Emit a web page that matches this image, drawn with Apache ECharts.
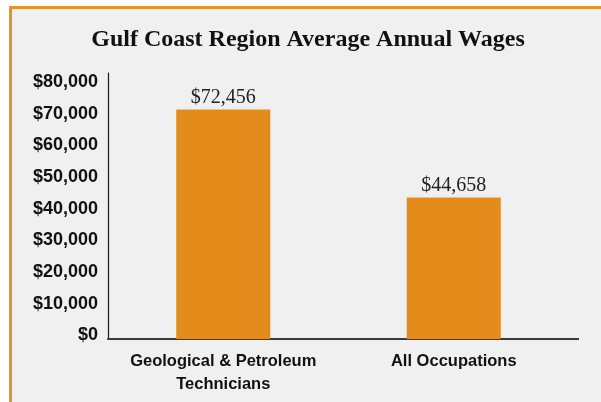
<!DOCTYPE html>
<html>
<head>
<meta charset="utf-8">
<script src="https://cdn.jsdelivr.net/npm/echarts@6/dist/echarts.min.js"></script>
<style>
  html, body { margin:0; padding:0; background:#ffffff; overflow:hidden; }
  #panel { position:absolute; left:9px; top:6px; width:620px; height:420px;
           background:#f0f0f0; border-left:3px solid #e8922a; border-top:3px solid #e8922a; box-sizing:border-box; }
  #chart { position:absolute; left:0; top:0; width:601px; height:402px; }
</style>
</head>
<body>
<div id="panel"></div>
<div id="chart"></div>
<script>
const titleText = 'Gulf Coast Region Average Annual Wages';
const categories = ['Geological & Petroleum\nTechnicians', 'All Occupations'];
const wages = [72456, 44658];
const yTicks = [0, 10000, 20000, 30000, 40000, 50000, 60000, 70000, 80000];

const fmtMoney = v => '$' + Math.round(v).toLocaleString('en-US');
const labelFont = '"Liberation Sans Narrow", "Arial Narrow", "Liberation Sans", sans-serif';

const chart = echarts.init(document.getElementById('chart'), null, { renderer: 'canvas' });
chart.setOption({
  backgroundColor: 'transparent',
  animation: false,
  title: {
    text: titleText,
    left: 303, top: 23, textAlign: 'center',
    textStyle: { fontFamily: '"Liberation Serif", serif', fontWeight: 'bold', fontSize: 24, color: '#111' }
  },
  grid: { left: 108, top: 73, right: 32, bottom: 63, containLabel: false },
  xAxis: {
    type: 'category',
    data: categories,
    axisLine: { show: true, lineStyle: { color: '#3a3a3a', width: 2 } },
    axisTick: { show: false },
    axisLabel: {
      margin: 11, interval: 0,
      fontFamily: labelFont, fontWeight: 'bold', fontSize: 16.5, color: '#111', lineHeight: 23
    }
  },
  yAxis: {
    type: 'value',
    min: 0, max: 84000, interval: 10000,
    splitLine: { show: false },
    axisTick: { show: false },
    axisLine: { show: true, lineStyle: { color: '#1a1a1a', width: 1.2 } },
    axisLabel: {
      showMaxLabel: false,
      margin: 10,
      formatter: v => yTicks.indexOf(v) >= 0 ? '{a|' + fmtMoney(v) + '}' : '',
      rich: {
        a: {
          fontFamily: labelFont, fontWeight: 'bold', fontSize: 18, color: '#111',
          padding: [0, 0, 7, 0]
        }
      }
    }
  },
  series: [{
    type: 'bar',
    data: wages,
    barWidth: 94,
    itemStyle: { color: '#e38c1c' },
    label: {
      show: true, position: 'top', distance: 2,
      formatter: p => fmtMoney(p.value),
      fontFamily: '"Liberation Serif", serif', fontSize: 20, color: '#222'
    }
  }],
  graphic: [{
    type: 'line', z: 10,
    shape: { x1: 568, y1: 339, x2: 579, y2: 339 },
    style: { stroke: '#3a3a3a', lineWidth: 2 }
  }]
});
</script>
</body>
</html>
